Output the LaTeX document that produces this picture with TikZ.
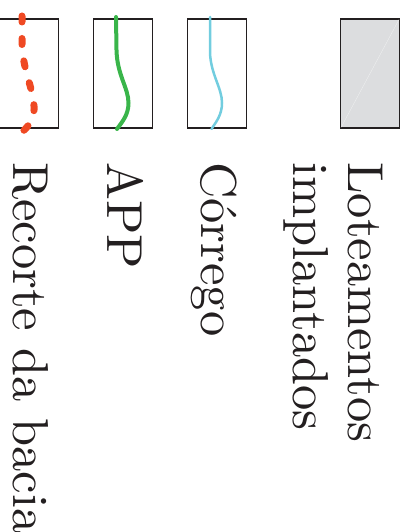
\documentclass[tikz,border=0pt]{standalone}
\usepackage{fontspec}
\newfontfamily\keyfont{lmroman10-regular}[Extension=.otf]
\definecolor{inkc}{HTML}{231F20}
\definecolor{limitred}{HTML}{EF4923}
\definecolor{appgreen}{HTML}{39B54A}
\definecolor{streamblue}{HTML}{72CDDF}
\definecolor{lotgray}{HTML}{DCDDDF}
\tikzset{
  keybox/.style={draw=inkc, line width=1.3pt},
  keylabel/.style={rotate=-90, anchor=base west, inner sep=0pt, text=inkc,
    font=\keyfont\fontsize{50.5}{55}\selectfont}
}
\begin{document}
\begin{tikzpicture}[x=1pt, y=-1pt]
\useasboundingbox (0,0) rectangle (408,532);

% legend key boxes
\draw[keybox] (-0.7,19) rectangle (58.3,128);
\draw[keybox] (93.5,19) rectangle (152.5,128);
\draw[keybox] (187.5,19) rectangle (246.5,128);
\draw[keybox, fill=lotgray] (340.5,19) rectangle (399.5,128);
\draw[white, line width=0.3pt, opacity=0.6] (341,127.5) -- (399,19.5);

% basin boundary (dashed red)
\draw[limitred, line width=7pt, line cap=round, dash pattern=on 6pt off 16.5pt]
  (22,16) -- (22,45) .. controls (23,72) and (35,92) .. (34,110)
  .. controls (33.5,120) and (28,127) .. (21,133);

% APP (green)
\draw[appgreen, line width=4pt, line cap=round]
  (116,17) -- (116.5,50) .. controls (117,75) and (128.5,88) .. (128.5,103)
  .. controls (128.5,115) and (122,122) .. (117,129);

% stream (light blue)
\draw[streamblue, line width=2.5pt, line cap=round]
  (210,17) -- (210,53) .. controls (211,75) and (222,88) .. (222,103)
  .. controls (222,115) and (216,122) .. (211.5,129);

% labels
\node[keylabel] (lot1) at (348,162) {Loteamentos};
\node[keylabel] (lot2) at (293,162) {implantados};
\node[keylabel] (cor) at (201,162) {Córrego};
\node[keylabel] (app) at (107,162) {APP};
\node[keylabel] (rec) at (13,162) {Recorte da bacia};
\end{tikzpicture}
\end{document}
